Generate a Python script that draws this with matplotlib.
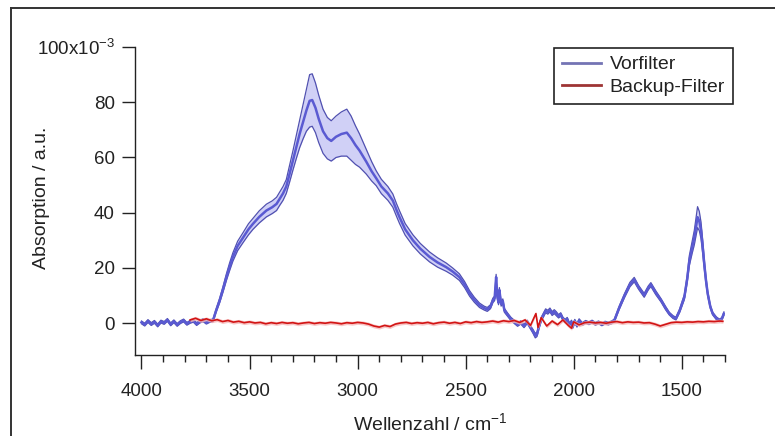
import matplotlib
matplotlib.use("Agg")
import matplotlib.pyplot as plt
from matplotlib.lines import Line2D
import numpy as np

plt.rcParams['font.family'] = ['Liberation Sans', 'DejaVu Sans']
plt.rcParams['mathtext.fontset'] = 'custom'
plt.rcParams['mathtext.rm'] = 'Liberation Sans'

# ---------------- data (absorption in 1e-3 a.u.) ----------------
vor_wn = [4000, 3985, 3970, 3955, 3940, 3925, 3910, 3895, 3880, 3865, 3850, 3835, 3820, 3805,
          3790, 3775, 3760, 3745, 3730, 3715, 3700, 3685, 3669, 3655, 3638, 3622, 3607, 3592,
          3577, 3555, 3530, 3505, 3484, 3455, 3422, 3395, 3375, 3361, 3345, 3330, 3315, 3299,
          3283, 3268, 3252, 3237, 3222, 3210, 3195, 3180, 3160, 3140, 3122, 3100, 3075, 3050,
          3030, 3010, 2991, 2960, 2935, 2914, 2890, 2860, 2837, 2820, 2806, 2780, 2744, 2710,
          2667, 2630, 2590, 2560, 2529, 2505, 2482, 2460, 2436, 2415, 2400, 2385, 2374, 2366,
          2359, 2354, 2348, 2344, 2336, 2328, 2321, 2305, 2290, 2275, 2260, 2245, 2230, 2215,
          2200, 2188, 2178, 2170, 2160, 2150, 2140, 2130, 2120, 2110, 2100, 2090, 2081, 2070,
          2060, 2051, 2040, 2030, 2020, 2010, 2005, 1995, 1985, 1975, 1960, 1945, 1930, 1915,
          1900, 1885, 1870, 1855, 1840, 1825, 1812, 1790, 1765, 1740, 1720, 1700, 1674, 1655,
          1643, 1620, 1596, 1575, 1558, 1540, 1527, 1510, 1488, 1475, 1465, 1452, 1442, 1434,
          1427, 1419, 1411, 1403, 1396, 1388, 1380, 1368, 1357, 1340, 1326, 1315, 1305]
vor_mean = [0.3, -0.5, 0.8, -0.3, 0.5, -0.8, 0.6, 0.1, 1.2, -0.4, 0.7, -0.6, 0.4, 1.0,
            -0.2, 0.5, 0.9, -0.3, 0.6, 1.1, 0.2, 0.8, 1.0, 4.5, 8.3, 12.5, 16.7, 20.5,
            24.0, 28.0, 31.0, 34.0, 36.0, 38.5, 40.8, 42.0, 43.2, 45.0, 47.0, 49.5, 54.0, 59.0,
            64.0, 68.6, 73.0, 77.0, 80.5, 80.8, 78.0, 74.0, 69.5, 67.0, 66.0, 67.5, 68.5, 69.0,
            67.0, 64.5, 62.5, 58.5, 55.0, 52.5, 49.5, 47.0, 44.4, 41.0, 38.4, 34.0, 30.0, 27.0,
            24.0, 22.0, 20.3, 18.7, 16.7, 14.0, 10.8, 8.5, 6.5, 5.5, 5.0, 6.0, 8.3, 9.0,
            16.7, 10.0, 7.5, 12.0, 7.0, 8.0, 4.7, 3.0, 1.5, 0.5, -0.5, 0.3, -1.0, 0.5,
            -1.5, -3.0, -4.5, -4.0, -1.0, 1.5, 3.0, 4.5, 4.0, 4.8, 3.5, 4.2, 3.5, 2.5,
            3.2, 1.7, 0.8, 1.5, -0.5, 0.5, -1.3, 0.8, -0.8, 1.0, -0.3, 0.5, 0.0, 0.6,
            -0.2, 0.3, -0.4, 0.2, -0.1, 0.3, 1.0, 5.5, 10.0, 14.0, 15.8, 13.0, 10.1, 12.8,
            14.0, 11.0, 8.3, 5.5, 3.5, 2.2, 1.7, 4.5, 9.5, 16.0, 22.7, 27.5, 31.0, 35.0,
            38.4, 37.0, 33.6, 27.5, 21.5, 15.5, 10.7, 6.0, 3.5, 1.8, 1.0, 1.5, 3.5]
vor_err = [0.5, 0.5, 0.5, 0.5, 0.5, 0.5, 0.5, 0.5, 0.5, 0.5, 0.5, 0.5, 0.5, 0.5,
           0.5, 0.5, 0.5, 0.5, 0.5, 0.5, 0.5, 0.5, 0.5, 0.6, 0.8, 1.0, 1.2, 1.4,
           1.5, 1.7, 1.8, 2.0, 2.0, 2.2, 2.3, 2.3, 2.4, 2.4, 2.5, 2.5, 3.0, 3.5,
           4.2, 5.0, 6.2, 7.5, 9.5, 9.5, 9.0, 8.6, 8.0, 7.5, 7.3, 7.5, 8.0, 8.5,
           8.0, 7.0, 6.0, 4.5, 3.5, 2.7, 2.6, 2.5, 2.4, 2.3, 2.3, 2.1, 2.0, 1.9,
           1.8, 1.7, 1.5, 1.3, 1.2, 1.1, 1.0, 0.9, 0.8, 0.7, 0.7, 0.7, 0.8, 0.8,
           1.0, 0.8, 0.8, 0.9, 0.8, 0.8, 0.7, 0.6, 0.6, 0.6, 0.6, 0.6, 0.6, 0.6,
           0.6, 0.7, 0.8, 0.8, 0.7, 0.7, 0.7, 0.7, 0.7, 0.7, 0.7, 0.7, 0.7, 0.6,
           0.6, 0.6, 0.6, 0.6, 0.6, 0.6, 0.6, 0.6, 0.6, 0.6, 0.5, 0.5, 0.5, 0.5,
           0.5, 0.5, 0.5, 0.5, 0.5, 0.5, 0.5, 0.6, 0.7, 0.8, 0.8, 0.7, 0.7, 0.7,
           0.7, 0.7, 0.6, 0.6, 0.5, 0.5, 0.5, 0.6, 0.9, 1.3, 1.8, 2.2, 2.6, 3.2,
           3.8, 3.5, 3.0, 2.4, 1.8, 1.3, 0.9, 0.6, 0.5, 0.5, 0.5, 0.5, 0.6]

bak_wn = [3775, 3750, 3725, 3700, 3675, 3650, 3625, 3600, 3575, 3550, 3525, 3500, 3475,
          3450, 3425, 3400, 3375, 3350, 3325, 3300, 3275, 3250, 3225, 3200, 3175, 3150,
          3125, 3100, 3075, 3050, 3025, 3000, 2975, 2950, 2925, 2900, 2875, 2850, 2825,
          2800, 2775, 2750, 2725, 2700, 2675, 2650, 2625, 2600, 2575, 2550, 2525, 2500,
          2475, 2450, 2425, 2400, 2375, 2350, 2325, 2300, 2275, 2250, 2225, 2200, 2185,
          2175, 2165, 2150, 2125, 2100, 2075, 2050, 2025, 2010, 2000, 1975, 1950, 1925,
          1900, 1875, 1850, 1825, 1800, 1775, 1750, 1725, 1700, 1675, 1650, 1625, 1600,
          1575, 1550, 1525, 1500, 1475, 1450, 1425, 1400, 1375, 1350, 1325, 1310]
bak_mean = [1.2, 1.8, 1.0, 1.6, 0.9, 1.3, 0.6, 1.0, 0.4, 0.7, 0.2, 0.5, 0.1,
            0.3, -0.2, 0.2, -0.1, 0.3, 0.0, 0.2, -0.2, 0.1, 0.3, -0.1, 0.2, 0.0,
            0.3, 0.1, -0.2, 0.2, 0.0, 0.3, 0.1, -0.3, -1.0, -1.4, -0.8, -1.2, -0.3,
            0.1, 0.3, -0.1, 0.2, 0.0, 0.3, -0.2, 0.2, 0.4, 0.0, 0.3, -0.1, 0.5,
            0.2, 0.6, 0.3, 0.5, 0.8, 0.4, 0.9, 0.6, 1.0, 0.3, 1.2, -0.8, 1.8,
            3.5, -1.5, 2.0, -1.0, 0.8, -0.5, 1.2, -0.8, -1.8, 0.5, -0.6, 0.2, 0.4,
            0.1, 0.3, 0.0, 0.4, 0.6, 0.2, 0.5, 0.3, 0.4, 0.1, 0.2, -0.3, -1.0,
            -0.4, 0.2, 0.4, 0.3, 0.5, 0.4, 0.6, 0.5, 0.7, 0.6, 0.8, 0.7]
bak_err = 0.7

series_names = ["Vorfilter", "Backup-Filter"]
xlabel = "Wellenzahl / cm$^{\\mathregular{-1}}$"
ylabel = "Absorption / a.u."
yticks = [0, 20, 40, 60, 80, 100]
yticklabels = ["0", "20", "40", "60", "80", "100x10$^{\\mathregular{-3}}$"]
xticks = [4000, 3500, 3000, 2500, 2000, 1500]

FS_TICK = 13.5
FS_LAB = 14
FS_LEG = 14
TXT = "#222222"

# ---------------- figure ----------------
fig = plt.figure(figsize=(7.75, 4.36), dpi=100)
ax = fig.add_axes([135 / 775, 1 - 355 / 436, (725 - 135) / 775, (355 - 47) / 436])

blue = "#5a5ad2"
blue_edge = "#5050b0"
blue_fill = "#d0d0f6"
red = "#d21414"
red_fill = "#f6b8b8"

vw = np.array(vor_wn, float)
vm = np.array(vor_mean, float)
ve = np.array(vor_err, float)
ax.fill_between(vw, vm - ve, vm + ve, color=blue_fill, lw=0, zorder=1)
ax.plot(vw, vm - ve, color=blue_edge, lw=0.9, zorder=2)
ax.plot(vw, vm + ve, color=blue_edge, lw=0.9, zorder=2)
ax.plot(vw, vm, color=blue, lw=1.8, zorder=3)

bw = np.array(bak_wn, float)
bm = np.array(bak_mean, float)
ax.fill_between(bw, bm - bak_err, bm + bak_err, color=red_fill, lw=0, zorder=4, alpha=0.8)
ax.plot(bw, bm, color=red, lw=1.2, zorder=5)

ax.set_xlim(4030, 1300)
ax.set_ylim(-11.5, 100)

for s in ["top", "right"]:
    ax.spines[s].set_visible(False)
for s in ["left", "bottom"]:
    ax.spines[s].set_linewidth(1.0)
    ax.spines[s].set_color(TXT)

ax.set_xticks(xticks)
ax.set_xticklabels([str(t) for t in xticks])
ax.set_xticks(list(range(4000, 1299, -100)), minor=True)
ax.set_yticks(yticks)
ax.set_yticklabels(yticklabels)
ax.tick_params(axis="x", which="major", direction="out", length=10, width=1.0,
               labelsize=FS_TICK, pad=10.5, color=TXT, labelcolor=TXT)
ax.tick_params(axis="x", which="minor", direction="out", length=5, width=1.0, color=TXT)
ax.tick_params(axis="y", which="major", direction="out", length=9.5, width=1.0,
               labelsize=FS_TICK, pad=5, color=TXT, labelcolor=TXT)
ax.tick_params(axis="y", which="minor", left=False)

ax.set_xlabel(xlabel, fontsize=FS_LAB, labelpad=9, color=TXT)
ax.set_ylabel(ylabel, fontsize=FS_LAB, color=TXT)
ax.yaxis.set_label_coords((50 - 135) / 590, 0.51)

handles = [Line2D([], [], color="#7474b4", lw=2.0),
           Line2D([], [], color="#9e3434", lw=2.0)]
leg = ax.legend(handles, series_names, loc="upper right",
                bbox_to_anchor=(733 / 775, 1 - 48 / 436), bbox_transform=fig.transFigure,
                borderaxespad=0, fontsize=FS_LEG, fancybox=False, framealpha=1,
                edgecolor=TXT, handlelength=2.0, handletextpad=0.45,
                labelspacing=0.25, borderpad=0.4)
leg.get_frame().set_linewidth(1.2)
for t in leg.get_texts():
    t.set_color(TXT)

# outer frame (cropped on right and bottom)
fig.add_artist(Line2D([11 / 775, 11 / 775], [0, 1 - 8 / 436], transform=fig.transFigure,
                      color="#333333", lw=1.4))
fig.add_artist(Line2D([11 / 775, 1], [1 - 8 / 436, 1 - 8 / 436], transform=fig.transFigure,
                      color="#333333", lw=1.4))

fig.savefig("out.png", dpi=100)
